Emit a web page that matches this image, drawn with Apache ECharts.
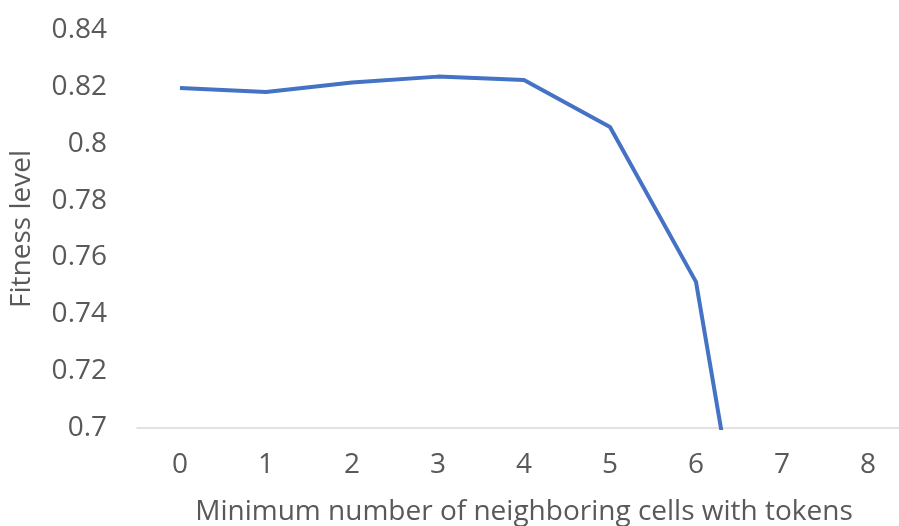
<!DOCTYPE html>
<html>
<head>
<meta charset="utf-8">
<script src="https://cdn.jsdelivr.net/npm/echarts@6/dist/echarts.min.js"></script>
<style>
  html, body { margin: 0; padding: 0; background: #fff; }
  #chart { width: 899px; height: 526px; }
</style>
</head>
<body>
<div id="chart"></div>
<script>
// minimum number of neighboring cells with tokens
const categories = ['0', '1', '2', '3', '4', '5', '6', '7', '8']
// fitness level (7 read from the slope before clipping, 8 not visible)
const fitness = [0.8196, 0.8182, 0.8215, 0.8236, 0.8224, 0.8059, 0.7514, 0.574, null]

const chart = echarts.init(document.getElementById('chart'))

const textColor = '#595959'
const fontFamily = '"Open Sans", sans-serif'

const option = {
  animation: false,
  grid: {
    left: 137,
    right: -12,
    top: 30,
    bottom: 98,
    outerBoundsMode: 'none'
  },
  xAxis: {
    type: 'category',
    data: categories,
    boundaryGap: true,
    name: 'Minimum number of neighboring cells with tokens',
    nameLocation: 'middle',
    nameGap: 70,
    nameTextStyle: { color: textColor, fontSize: 28, fontFamily: fontFamily },
    axisLine: { lineStyle: { color: '#d9d9d9', width: 1.5 } },
    axisTick: { show: false },
    axisLabel: { color: textColor, fontSize: 28, fontFamily: fontFamily, margin: 23 },
    splitLine: { show: false }
  },
  yAxis: {
    type: 'value',
    min: 0.7,
    max: 0.84,
    interval: 0.02,
    name: 'Fitness level',
    nameLocation: 'middle',
    nameGap: 101,
    nameTextStyle: { color: textColor, fontSize: 28, fontFamily: fontFamily },
    axisLine: { show: false },
    axisTick: { show: false },
    axisLabel: { color: textColor, fontSize: 28, fontFamily: fontFamily, margin: 30 },
    splitLine: { show: false }
  },
  series: [
    {
      type: 'line',
      data: fitness,
      symbol: 'none',
      clip: true,
      lineStyle: { color: '#4472C4', width: 4 }
    }
  ]
}

chart.setOption(option)
</script>
</body>
</html>
